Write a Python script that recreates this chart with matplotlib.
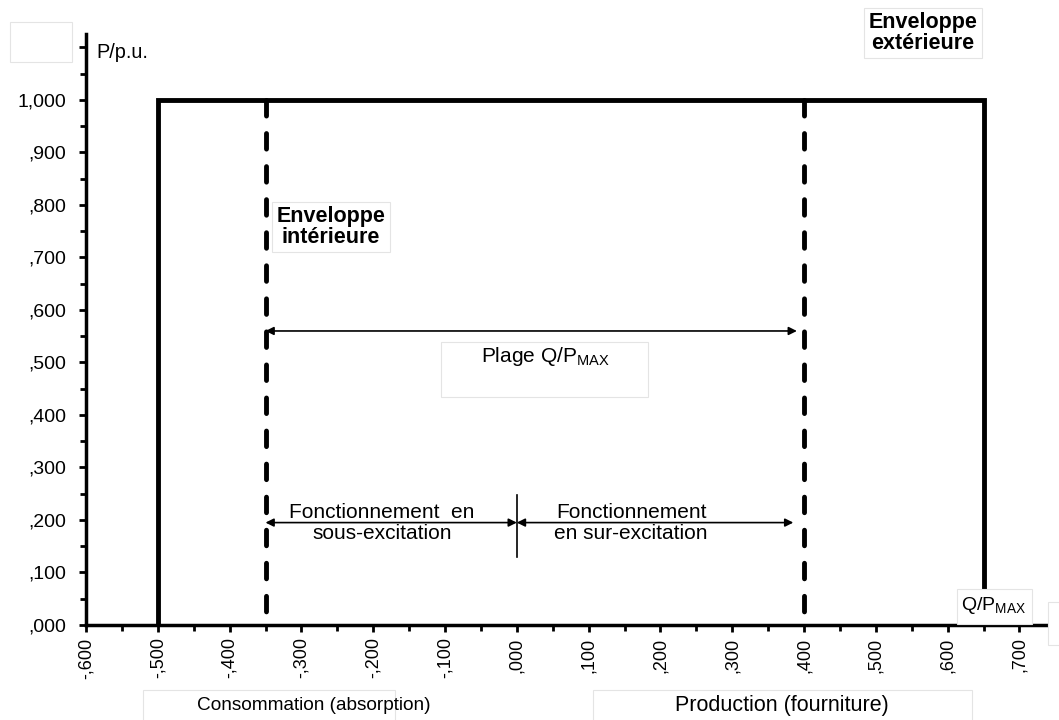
import matplotlib
matplotlib.use("Agg")
from matplotlib import pyplot as plt
from matplotlib.ticker import MultipleLocator, FuncFormatter

plt.rcParams['font.family'] = ['Liberation Sans', 'DejaVu Sans']
plt.rcParams['mathtext.default'] = 'regular'

# enveloppes (Q/Pmax, P/p.u.)
outer_q = [-0.5, -0.5, 0.65, 0.65]
outer_p = [0.0, 1.0, 1.0, 0.0]
inner_q = [-0.35, 0.40]
p_max = 1.0
plage_y = 0.56
fonct_y = 0.195
sur_end = 0.385
mark_y = [0.13, 0.248]


def fmt(v, pos=None):
    s = "{0:.3f}".format(abs(v)).replace(".", ",")
    if s.startswith("0"):
        s = s[1:]
    if v < -1e-9:
        s = "-" + s
    return s


fig = plt.figure(figsize=(10.59, 7.2), dpi=100)
ax = fig.add_axes([0.0812, 0.132, 0.912, 0.821])

ax.plot(outer_q, outer_p, color="black", linewidth=3.5, solid_joinstyle="miter")
# tirets dessines du haut vers le bas
for q in inner_q:
    ax.plot([q, q], [p_max, 0], color="black", linewidth=3.5,
            linestyle=(0, (3.2, 3.6)), dash_capstyle="round")

# fleches
arr = dict(arrowstyle="<|-|>", color="black", linewidth=1.2, mutation_scale=12,
           shrinkA=0, shrinkB=0)
ax.annotate("", xy=(inner_q[0], plage_y), xytext=(inner_q[1] - 0.01, plage_y), arrowprops=arr)
ax.annotate("", xy=(inner_q[0], fonct_y), xytext=(0.0, fonct_y), arrowprops=arr)
ax.annotate("", xy=(0.0, fonct_y), xytext=(sur_end, fonct_y), arrowprops=arr)
ax.plot([0, 0], mark_y, color="black", linewidth=1.2)

ax.set_xlim(-0.6, 0.745)
ax.set_ylim(0, 1.126)

for s in ["top", "right"]:
    ax.spines[s].set_visible(False)
for s in ["left", "bottom"]:
    ax.spines[s].set_linewidth(2.5)

ax.xaxis.set_major_locator(MultipleLocator(0.1))
ax.xaxis.set_minor_locator(MultipleLocator(0.05))
ax.yaxis.set_major_locator(MultipleLocator(0.1))
ax.yaxis.set_minor_locator(MultipleLocator(0.05))
ax.xaxis.set_major_formatter(FuncFormatter(fmt))
ax.yaxis.set_major_formatter(FuncFormatter(fmt))
ax.tick_params(which="major", length=5, width=2)
ax.tick_params(which="minor", length=4, width=2)
ax.tick_params(axis="y", which="major", pad=9, labelsize=14)
ax.tick_params(axis="x", which="major", rotation=90, pad=4, labelsize=13)
ax.set_xticks([t / 10 for t in range(-6, 8)])

box = dict(boxstyle="square,pad=0.2", facecolor="white", edgecolor="#e4e4e4", linewidth=0.8)


def empty_box(x0, y0, x1, y1):
    fig.patches.append(plt.Rectangle((x0 / 1059, 1 - y1 / 720), (x1 - x0) / 1059, (y1 - y0) / 720,
                                     transform=fig.transFigure, facecolor="white",
                                     edgecolor="#e4e4e4", linewidth=0.8))


fig.text(96 / 1059, 1 - 52 / 720, "P/p.u.", fontsize=14.3, va="center", ha="left")
empty_box(10, 22, 72, 62)
fig.text(923 / 1059, 1 - 33 / 720, "Enveloppe\nextérieure", fontsize=15.5, fontweight="bold",
         ha="center", va="center", linespacing=1.0, bbox=box)
fig.text(331 / 1059, 1 - 227 / 720, "Enveloppe\nintérieure", fontsize=15.5, fontweight="bold",
         ha="center", va="center", linespacing=1.0, bbox=box)

empty_box(441, 342, 648, 397)
fig.text(545 / 1059, 1 - 357 / 720, "Plage Q/P$_{MAX}$", fontsize=15, ha="center", va="center")

fig.text(382 / 1059, 1 - 523 / 720, "Fonctionnement  en\nsous-excitation", fontsize=15,
         ha="center", va="center", linespacing=1.1)
fig.text(631 / 1059, 1 - 523 / 720, "Fonctionnement\nen sur-excitation", fontsize=15,
         ha="center", va="center", linespacing=1.1)

empty_box(957, 589, 1032, 624)
fig.text(994 / 1059, 1 - 606 / 720, "Q/P$_{MAX}$", fontsize=14, ha="center", va="center")
empty_box(1048, 602, 1068, 645)

empty_box(143, 690, 395, 722)
fig.text(197 / 1059, 1 - 706 / 720, "Consommation (absorption)", fontsize=13.7,
         ha="left", va="center")
empty_box(593, 690, 972, 722)
fig.text(675 / 1059, 1 - 706 / 720, "Production (fourniture)", fontsize=15.5,
         ha="left", va="center")

fig.savefig("out.png", dpi=100)
